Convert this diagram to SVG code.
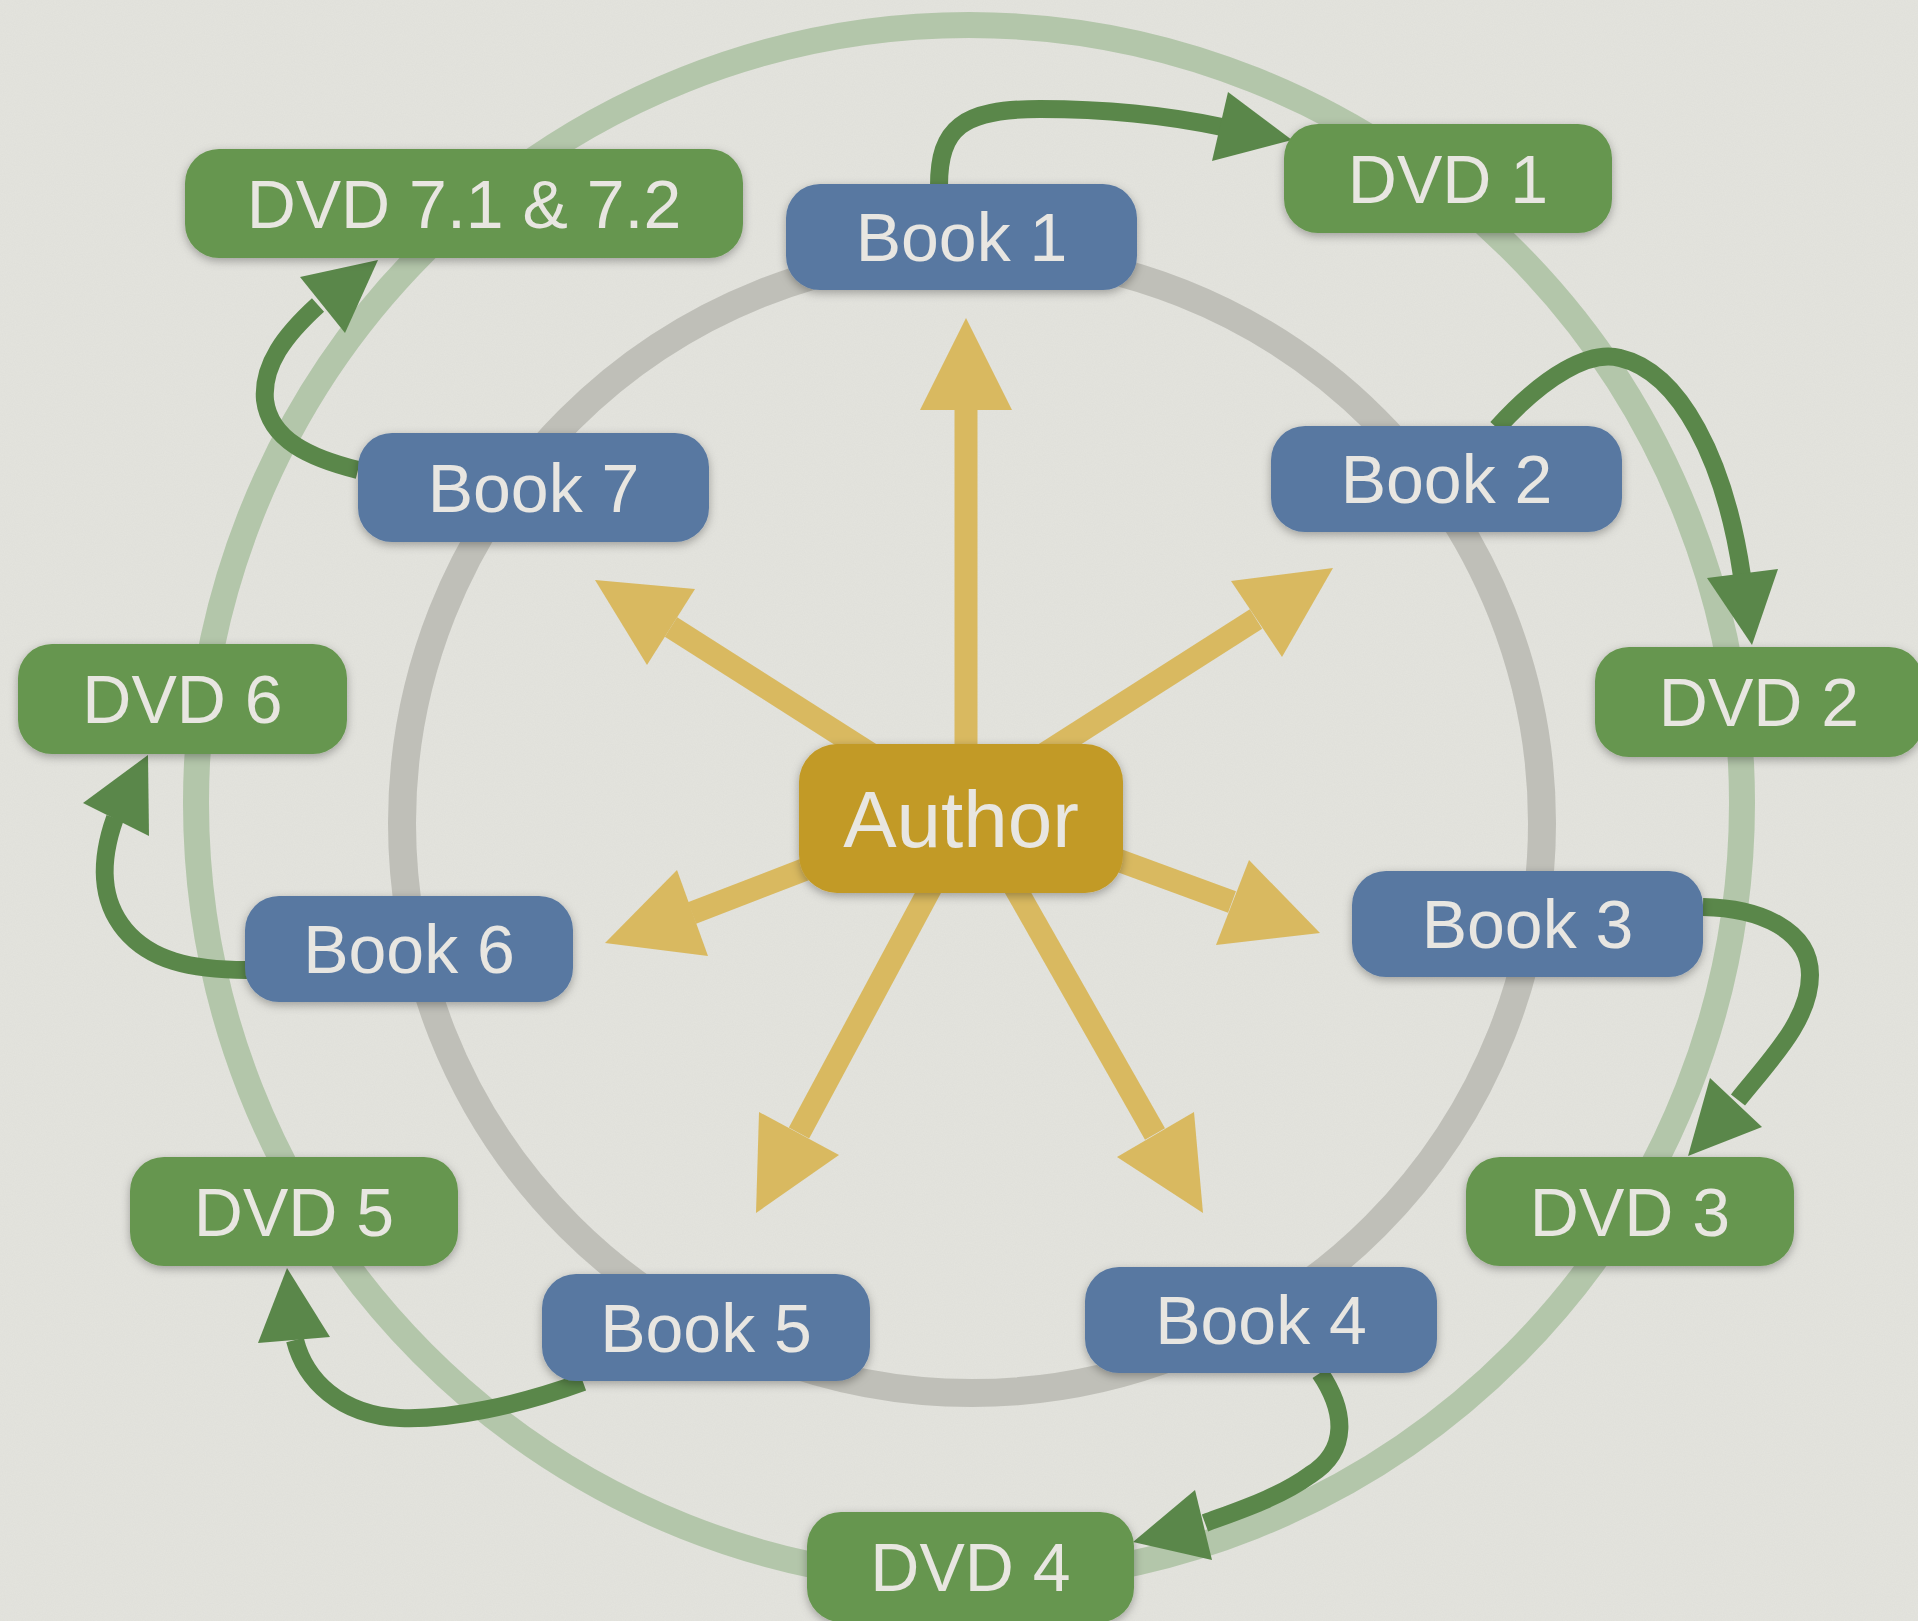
<svg xmlns="http://www.w3.org/2000/svg" width="1918" height="1621" viewBox="0 0 1918 1621">
<defs>
<style>
.node rect{filter:url(#sh)}
.book rect{fill:#5878a1}
.dvd rect{fill:#66964f}
.auth rect{fill:#c29a27}
text{font-family:"Liberation Sans",Arial,sans-serif;fill:#e8e6e1;text-anchor:middle}
.lbl{font-size:68px}
.albl{font-size:80px}
.ya line{stroke:#d9b960;stroke-width:23}
.ya polygon{fill:#d9b960}
.gc path{fill:none;stroke:#5a874a;stroke-width:18}
.gc polygon{fill:#5a874a}
</style>
<filter id="sh" x="-20%" y="-30%" width="140%" height="170%">
<feDropShadow dx="0" dy="3" stdDeviation="5" flood-color="#000" flood-opacity="0.3"/>
</filter>
<filter id="noise" x="0" y="0" width="100%" height="100%">
<feTurbulence type="fractalNoise" baseFrequency="0.9" numOctaves="2" seed="3"/>
<feColorMatrix type="matrix" values="0 0 0 0 0.5  0 0 0 0 0.5  0 0 0 0 0.48  0 0 0 0.12 0"/>
</filter>
</defs>
<rect width="1918" height="1621" fill="#e4e4de"/>
<rect width="1918" height="1621" filter="url(#noise)"/>
<g id="rings">
<ellipse cx="969" cy="803" rx="773" ry="778" fill="none" stroke="#b3c6aa" stroke-width="26"/>
<circle cx="972" cy="823" r="570" fill="none" stroke="#bfbfb8" stroke-width="28"/>
</g>
<g id="connectors">
<g class="ya">
<line x1="966" y1="780" x2="966" y2="405"/><polygon points="966,318 920,410 1012,410"/>
<line x1="872" y1="755" x2="671" y2="627"/><polygon points="595,580 695,589 647,665"/>
<line x1="1043" y1="755" x2="1256" y2="619"/><polygon points="1333,568 1231,581 1282,657"/>
<line x1="1104" y1="855" x2="1232" y2="902"/><polygon points="1320,933 1249,860 1216,945"/>
<line x1="819" y1="864" x2="692" y2="913"/><polygon points="605,943 677,870 708,956"/>
<line x1="937" y1="876" x2="799" y2="1133"/><polygon points="756,1213 759,1112 839,1155"/>
<line x1="1009" y1="877" x2="1155" y2="1134"/><polygon points="1203,1213 1194,1112 1117,1157"/>
</g>
<g class="gc">
<path d="M939,186 C939,128 962,109 1040,109 C1110,109 1170,116 1222,127"/><polygon points="1292,140 1228,92 1212,161"/>
<path d="M1497,428 C1545,375 1590,350 1620,358 C1680,372 1725,460 1742,576"/><polygon points="1752,645 1707,578 1778,569"/>
<path d="M1703,907 C1760,908 1810,930 1810,975 C1810,1020 1770,1060 1738,1100"/><polygon points="1688,1156 1710,1078 1762,1127"/>
<path d="M1320,1373 C1345,1410 1350,1450 1310,1475 C1280,1497 1240,1510 1205,1523"/><polygon points="1133,1542 1195,1490 1212,1560"/>
<path d="M583,1382 C520,1405 450,1420 400,1418 C340,1415 305,1380 295,1340"/><polygon points="287,1268 258,1343 330,1337"/>
<path d="M247,970 C190,970 150,960 125,930 C100,900 100,860 115,818"/><polygon points="148,755 83,803 149,836"/>
<path d="M358,470 C310,458 270,440 265,400 C262,365 285,335 318,305"/><polygon points="378,260 300,277 345,333"/>
</g>
</g>
<g id="dvd71" class="node dvd"><rect x="185" y="149" width="558" height="109" rx="34"/><text class="lbl" x="464" y="228">DVD 7.1 &amp; 7.2</text></g>
<g id="book7" class="node book"><rect x="358" y="433" width="351" height="109" rx="34"/><text class="lbl" x="533.5" y="512">Book 7</text></g>
<g id="dvd6" class="node dvd"><rect x="18" y="644" width="329" height="110" rx="34"/><text class="lbl" x="182.5" y="723">DVD 6</text></g>
<g id="book1" class="node book"><rect x="786" y="184" width="351" height="106" rx="34"/><text class="lbl" x="961.5" y="261">Book 1</text></g>
<g id="dvd1" class="node dvd"><rect x="1284" y="124" width="328" height="109" rx="34"/><text class="lbl" x="1448" y="203">DVD 1</text></g>
<g id="book2" class="node book"><rect x="1271" y="426" width="351" height="106" rx="34"/><text class="lbl" x="1446.5" y="503">Book 2</text></g>
<g id="dvd2" class="node dvd"><rect x="1595" y="647" width="328" height="110" rx="34"/><text class="lbl" x="1759" y="726">DVD 2</text></g>
<g id="author" class="node auth"><rect x="799" y="744" width="324" height="149" rx="38"/><text class="albl" x="961" y="847">Author</text></g>
<g id="book3" class="node book"><rect x="1352" y="871" width="351" height="106" rx="34"/><text class="lbl" x="1527.5" y="948">Book 3</text></g>
<g id="dvd3" class="node dvd"><rect x="1466" y="1157" width="328" height="109" rx="34"/><text class="lbl" x="1630" y="1236">DVD 3</text></g>
<g id="book4" class="node book"><rect x="1085" y="1267" width="352" height="106" rx="34"/><text class="lbl" x="1261" y="1344">Book 4</text></g>
<g id="dvd4" class="node dvd"><rect x="807" y="1512" width="327" height="110" rx="34"/><text class="lbl" x="970.5" y="1591">DVD 4</text></g>
<g id="book5" class="node book"><rect x="542" y="1274" width="328" height="107" rx="34"/><text class="lbl" x="706" y="1352">Book 5</text></g>
<g id="dvd5" class="node dvd"><rect x="130" y="1157" width="328" height="109" rx="34"/><text class="lbl" x="294" y="1236">DVD 5</text></g>
<g id="book6" class="node book"><rect x="245" y="896" width="328" height="106" rx="34"/><text class="lbl" x="409" y="973">Book 6</text></g>
</svg>
